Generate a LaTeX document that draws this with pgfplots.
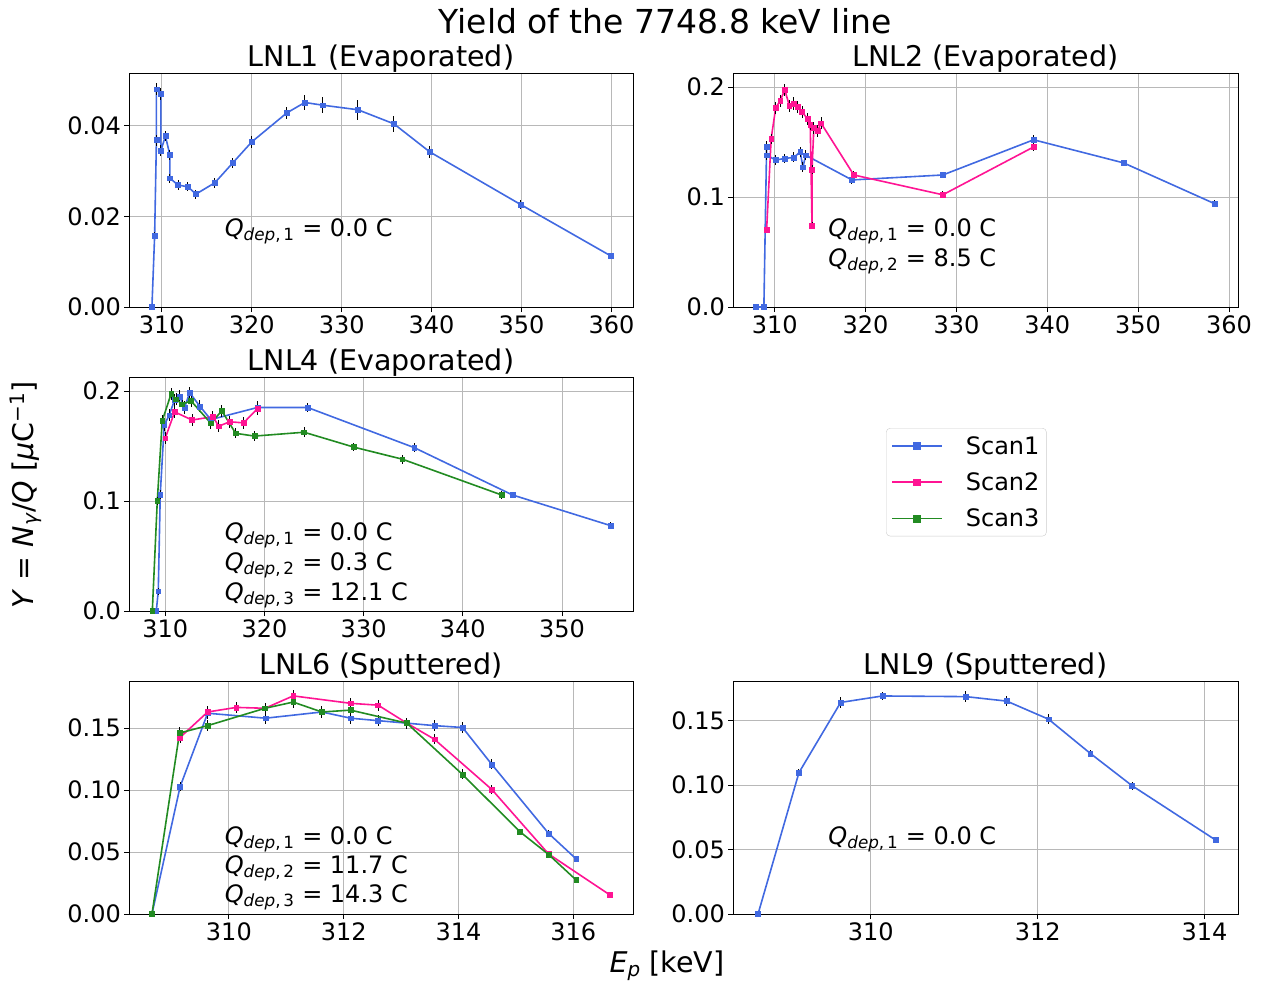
\documentclass[border=0pt]{standalone}
\usepackage{fontspec}
\setmainfont{DejaVu Sans}
\usepackage{pgfplots}
\pgfplotsset{compat=1.18}
\definecolor{c1}{RGB}{65,105,225}
\definecolor{c2}{RGB}{255,20,147}
\definecolor{c3}{RGB}{34,139,34}
\newcommand{\tfont}{\fontsize{24bp}{28bp}\selectfont}
\newcommand{\lfont}{\fontsize{28.5bp}{33bp}\selectfont}
\newcommand{\Qd}[1]{\textit{Q}\textsubscript{\textit{dep},\,#1}}
\pgfplotsset{
  panel/.style={
    scale only axis, anchor=north west,
    tick align=outside, xtick pos=lower, ytick pos=left,
    major tick length=5bp,
    tick style={black, line width=0.8bp},
    axis line style={line width=0.8bp},
    grid=major, grid style={black!28, line width=0.8bp},
    tick label style={font=\tfont, inner sep=3bp},
    title style={font=\lfont, at={(0.5,1)}, anchor=base, yshift=1bp},
    /pgf/number format/assume math mode=true,
    scaled y ticks=false,
    ymin=0,
    every axis plot/.append style={mark=square*, mark size=2.4bp,
      error bars/y dir=both, error bars/y explicit, error bars/error mark=none,
      error bars/error bar style={black, line width=1bp, solid}},
  },
  yp2/.style={yticklabel style={/pgf/number format/fixed, /pgf/number format/fixed zerofill, /pgf/number format/precision=2}},
  yp1/.style={yticklabel style={/pgf/number format/fixed, /pgf/number format/fixed zerofill, /pgf/number format/precision=1}},
  s1/.style={color=c1, line width=1.6bp, mark options={fill=c1, draw=c1, line width=0.5bp}},
  s2/.style={color=c2, line width=1.6bp, mark options={fill=c2, draw=c2, line width=0.5bp}},
  s3/.style={color=c3, line width=1.6bp, mark options={fill=c3, draw=c3, line width=0.5bp}},
}
\begin{document}
\begin{tikzpicture}
\useasboundingbox (0,0) rectangle (1275bp,-988bp);
\node[font=\fontsize{33bp}{38bp}\selectfont] at (665bp,-21bp) {Yield of the 7748.8 keV line};
\node[font=\lfont, rotate=90] at (26bp,-495bp) {\textit{Y} = \textit{N}\textsubscript{\textit{γ}}/\textit{Q} [\textit{μ}C\textsuperscript{−1}]};
\node[font=\lfont] at (667bp,-966bp) {\textit{E}\textsubscript{\textit{p}} [keV]};

% LNL1
\begin{axis}[panel, yp2, at={(129bp,-73bp)}, width=504bp, height=234bp,
  title={LNL1 (Evaporated)},
  xmin=306.35, xmax=362.4, ymax=0.0516,
  xtick={310,320,330,340,350,360}, ytick={0,0.02,0.04}]
\addplot[s1] coordinates {
(308.9,0.0000) +- (0,0.0003)
(309.2,0.0157) +- (0,0.0008)
(309.4,0.0368) +- (0,0.0012)
(309.4,0.0480) +- (0,0.0013)
(309.9,0.0470) +- (0,0.0013)
(309.9,0.0345) +- (0,0.0012)
(310.4,0.0377) +- (0,0.0012)
(310.9,0.0335) +- (0,0.0011)
(310.9,0.0284) +- (0,0.0010)
(311.8,0.0269) +- (0,0.0010)
(312.9,0.0265) +- (0,0.0010)
(313.8,0.0249) +- (0,0.0010)
(315.9,0.0274) +- (0,0.0011)
(317.9,0.0318) +- (0,0.0011)
(320.0,0.0364) +- (0,0.0014)
(323.9,0.0428) +- (0,0.0014)
(325.9,0.0451) +- (0,0.0016)
(327.9,0.0445) +- (0,0.0017)
(331.8,0.0435) +- (0,0.0022)
(335.8,0.0404) +- (0,0.0018)
(339.8,0.0342) +- (0,0.0014)
(349.9,0.0226) +- (0,0.0009)
(359.9,0.0113) +- (0,0.0005)
};
\node[anchor=west, font=\tfont] at (rel axis cs:0.183,0.322) {\Qd{1} = 0.0 C};
\end{axis}

% LNL2
\begin{axis}[panel, yp1, at={(733bp,-73bp)}, width=505bp, height=234bp,
  title={LNL2 (Evaporated)},
  xmin=305.4, xmax=361.0, ymax=0.2127,
  xtick={310,320,330,340,350,360}, ytick={0,0.1,0.2}]
\addplot[s1] coordinates {
(307.9,0.000) +- (0,0.001)
(308.8,0.000) +- (0,0.001)
(309.1,0.146) +- (0,0.0045)
(309.1,0.138) +- (0,0.0045)
(310.1,0.1336) +- (0,0.0045)
(311.1,0.135) +- (0,0.0045)
(312.1,0.136) +- (0,0.0045)
(312.8,0.141) +- (0,0.0045)
(313.1,0.127) +- (0,0.0045)
(313.4,0.138) +- (0,0.0045)
(318.5,0.1155) +- (0,0.004)
(328.5,0.120) +- (0,0.003)
(338.5,0.152) +- (0,0.004)
(348.4,0.131) +- (0,0.003)
(358.4,0.094) +- (0,0.003)
};
\addplot[s2] coordinates {
(309.1,0.070) +- (0,0.003)
(309.6,0.153) +- (0,0.0045)
(310.1,0.181) +- (0,0.0055)
(310.6,0.1875) +- (0,0.0055)
(311.1,0.1975) +- (0,0.0055)
(311.6,0.183) +- (0,0.0055)
(312.1,0.185) +- (0,0.0055)
(312.5,0.182) +- (0,0.0055)
(313.0,0.1775) +- (0,0.0055)
(313.6,0.171) +- (0,0.0055)
(313.9,0.166) +- (0,0.0055)
(314.1,0.074) +- (0,0.003)
(314.1,0.125) +- (0,0.004)
(314.3,0.163) +- (0,0.0055)
(314.7,0.160) +- (0,0.0055)
(315.1,0.167) +- (0,0.0055)
(318.7,0.120) +- (0,0.004)
(328.5,0.102) +- (0,0.003)
(338.5,0.1455) +- (0,0.004)
};
\node[anchor=west, font=\tfont] at (rel axis cs:0.182,0.322) {\Qd{1} = 0.0 C};
\node[anchor=west, font=\tfont] at (rel axis cs:0.182,0.194) {\Qd{2} = 8.5 C};
\end{axis}

% LNL4
\begin{axis}[panel, yp1, at={(129bp,-377bp)}, width=504bp, height=234bp,
  title={LNL4 (Evaporated)},
  xmin=306.35, xmax=357.15, ymax=0.2127,
  xtick={310,320,330,340,350}, ytick={0,0.1,0.2},
  legend style={at={(1.502,0.782)}, anchor=north west, draw=black!20, rounded corners=4bp,
    fill=white, font=\tfont, nodes={font=\tfont, inner sep=2bp}, inner xsep=5bp, inner ysep=6bp, row sep=13bp,
    /tikz/every odd column/.append style={column sep=21bp}},
  legend cell align=left,
  legend image code/.code={\draw[mark repeat=2, mark phase=2, mark size=3.3bp, #1] plot coordinates {(0bp,0bp) (25bp,0bp) (50bp,0bp)};}]
\addplot[s1] coordinates {
(309.1,0.000) +- (0,0.001)
(309.3,0.018) +- (0,0.003)
(309.5,0.106) +- (0,0.004)
(309.9,0.169) +- (0,0.0055)
(310.4,0.178) +- (0,0.0055)
(310.95,0.192) +- (0,0.0055)
(311.45,0.195) +- (0,0.0055)
(311.96,0.185) +- (0,0.0055)
(312.46,0.1985) +- (0,0.0055)
(313.5,0.186) +- (0,0.0055)
(314.6,0.174) +- (0,0.0055)
(319.3,0.185) +- (0,0.0055)
(324.35,0.185) +- (0,0.0045)
(335.1,0.1485) +- (0,0.004)
(345.0,0.1055) +- (0,0.003)
(354.9,0.0776) +- (0,0.003)
};
\addplot[s2] coordinates {
(310.0,0.157) +- (0,0.0055)
(310.95,0.181) +- (0,0.0055)
(312.7,0.1736) +- (0,0.0055)
(314.8,0.1766) +- (0,0.0055)
(315.4,0.168) +- (0,0.0055)
(316.5,0.172) +- (0,0.0055)
(317.9,0.171) +- (0,0.0055)
(319.3,0.184) +- (0,0.0055)
};
\addplot[s3] coordinates {
(308.7,0.000) +- (0,0.001)
(309.2,0.100) +- (0,0.004)
(309.7,0.173) +- (0,0.0055)
(310.6,0.1975) +- (0,0.0055)
(311.1,0.1925) +- (0,0.0055)
(311.7,0.188) +- (0,0.0055)
(312.6,0.191) +- (0,0.0055)
(314.6,0.1706) +- (0,0.0055)
(315.7,0.182) +- (0,0.0055)
(317.1,0.1615) +- (0,0.0045)
(319.0,0.159) +- (0,0.0045)
(324.0,0.1625) +- (0,0.0045)
(329.0,0.149) +- (0,0.004)
(333.9,0.138) +- (0,0.004)
(343.9,0.1055) +- (0,0.004)
};
\legend{Scan1,Scan2,Scan3}
\node[anchor=west, font=\tfont] at (rel axis cs:0.183,0.324) {\Qd{1} = 0.0 C};
\node[anchor=west, font=\tfont] at (rel axis cs:0.183,0.196) {\Qd{2} = 0.3 C};
\node[anchor=west, font=\tfont] at (rel axis cs:0.183,0.068) {\Qd{3} = 12.1 C};
\end{axis}

% LNL6
\begin{axis}[panel, yp2, at={(129bp,-681bp)}, width=504bp, height=233bp,
  title={LNL6 (Sputtered)},
  xmin=308.26, xmax=317.04, ymax=0.188,
  xtick={310,312,314,316}, ytick={0,0.05,0.1,0.15}]
\addplot[s1] coordinates {
(308.66,0.000) +- (0,0.001)
(309.15,0.1027) +- (0,0.0035)
(309.63,0.162) +- (0,0.0045)
(310.64,0.158) +- (0,0.0045)
(311.62,0.163) +- (0,0.0045)
(312.12,0.158) +- (0,0.0045)
(312.6,0.156) +- (0,0.0045)
(313.1,0.154) +- (0,0.0045)
(313.58,0.152) +- (0,0.0045)
(314.07,0.1505) +- (0,0.0045)
(314.58,0.1207) +- (0,0.004)
(315.57,0.065) +- (0,0.0025)
(316.05,0.0444) +- (0,0.002)
};
\addplot[s2] coordinates {
(309.15,0.1425) +- (0,0.0045)
(309.63,0.163) +- (0,0.0045)
(310.13,0.1667) +- (0,0.0045)
(310.63,0.166) +- (0,0.0045)
(311.12,0.176) +- (0,0.0045)
(312.12,0.170) +- (0,0.0045)
(312.6,0.1685) +- (0,0.0045)
(313.1,0.154) +- (0,0.0045)
(313.58,0.141) +- (0,0.004)
(314.58,0.1005) +- (0,0.0035)
(315.57,0.0484) +- (0,0.0025)
(316.64,0.0153) +- (0,0.0015)
};
\addplot[s3] coordinates {
(308.66,0.000) +- (0,0.001)
(309.14,0.146) +- (0,0.0045)
(309.63,0.152) +- (0,0.0045)
(310.63,0.166) +- (0,0.0045)
(311.12,0.171) +- (0,0.0045)
(311.62,0.163) +- (0,0.0045)
(312.12,0.1645) +- (0,0.0045)
(313.1,0.154) +- (0,0.0045)
(314.07,0.1126) +- (0,0.004)
(315.07,0.0664) +- (0,0.0025)
(315.57,0.048) +- (0,0.002)
(316.05,0.0274) +- (0,0.0015)
};
\node[anchor=west, font=\tfont] at (rel axis cs:0.183,0.322) {\Qd{1} = 0.0 C};
\node[anchor=west, font=\tfont] at (rel axis cs:0.183,0.197) {\Qd{2} = 11.7 C};
\node[anchor=west, font=\tfont] at (rel axis cs:0.183,0.072) {\Qd{3} = 14.3 C};
\end{axis}

% LNL9
\begin{axis}[panel, yp2, at={(733bp,-681bp)}, width=505bp, height=233bp,
  title={LNL9 (Sputtered)},
  xmin=308.35, xmax=314.4, ymax=0.1806,
  xtick={310,312,314}, ytick={0,0.05,0.1,0.15}]
\addplot[s1] coordinates {
(308.65,0.000) +- (0,0.001)
(309.14,0.1096) +- (0,0.003)
(309.64,0.164) +- (0,0.004)
(310.14,0.169) +- (0,0.003)
(311.14,0.1685) +- (0,0.004)
(311.63,0.165) +- (0,0.004)
(312.13,0.151) +- (0,0.004)
(312.63,0.1245) +- (0,0.003)
(313.13,0.0995) +- (0,0.003)
(314.13,0.0574) +- (0,0.0025)
};
\node[anchor=west, font=\tfont] at (rel axis cs:0.182,0.322) {\Qd{1} = 0.0 C};
\end{axis}
\end{tikzpicture}
\end{document}
